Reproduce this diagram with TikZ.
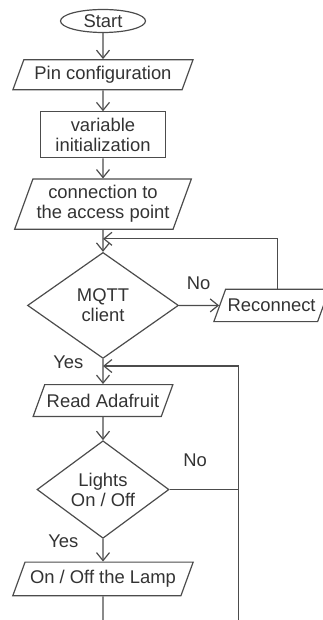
\documentclass[tikz,border=0pt]{standalone}
\usepackage{fontspec}
\setmainfont{Liberation Sans}
\usetikzlibrary{arrows.meta, shapes.geometric, positioning, calc}
\tikzset{> = { Straight Barb[length = 4pt, width = 6.5pt] }}

\begin{document}
\begin{tikzpicture}[color = black!70, line width = 0.6pt,
		every node/.style = { font = \fontsize{9.2}{10}\selectfont, text = black!80, inner sep = 0pt },
		terminal/.style = { draw, ellipse, minimum width = 42.5pt, minimum height = 11.5pt },
		io/.style = { draw, trapezium, trapezium left angle = 70, trapezium right angle = 110, align = center },
		process/.style = { draw, rectangle, align = center },
		decision/.style = { draw, diamond, align = center }
	]
		\useasboundingbox (0,0) rectangle (161pt,-310pt);

		\node [terminal] (start) at (51.5pt,-10.5pt) {Start};
		\node [io, inner xsep = 5.3pt, inner ysep = 3.2pt, below = 13pt of start] (pincfg) {Pin configuration};
		\node [process, minimum width = 62.5pt, minimum height = 23pt, below = 10.5pt of pincfg] (varinit) {variable\\initialization};
		\node [io, inner xsep = 1.8pt, inner ysep = 3.25pt, below = 10pt of varinit] (apconn) {connection to\\the access point};
		\node [decision, minimum width = 75.5pt, minimum height = 53pt, below = 11pt of apconn] (mqtt) {MQTT\\client};
		\node [io, inner xsep = 1pt, inner ysep = 4.9pt, right = 20pt of mqtt] (reconn) {Reconnect};
		\node [io, inner xsep = 1pt, inner ysep = 4.6pt, below = 12.5pt of mqtt] (readada) {Read Adafruit};
		\node [decision, minimum width = 66pt, minimum height = 45pt, below = 11.5pt of readada] (lights) {Lights\\On / Off};
		\node [io, inner xsep = 2.5pt, inner ysep = 4.1pt, below = 11.3pt of lights] (lamp) {On / Off the Lamp};

		% branch labels
		\node [above right = 7.7pt and 3.6pt of mqtt.east] (no1) {No};
		\node [above right = 11.2pt and 6.6pt of lights.east] (no2) {No};
		\node [left = 9.5pt of mqtt.south, yshift = -1.5pt] (yes1) {Yes};
		\node [left = 12pt of lights.south, yshift = -1pt] (yes2) {Yes};

		% loop joints and open ends
		\coordinate [below = 4.5pt of apconn] (loopin);
		\coordinate [below = 3.5pt of mqtt] (pollin);
		\coordinate (pollend) at (119.2pt,-312pt);
		\coordinate (lampend) at (lamp.south |- pollend);

		\draw [->] (start) -- (pincfg);
		\draw [->] (pincfg) -- (varinit);
		\draw [->] (varinit) -- (apconn);
		\draw [->] (apconn) -- (mqtt);
		\draw [->] (mqtt) -- (reconn);
		\draw [->] ([xshift = 3pt]reconn.north) |- (loopin);
		\draw [->] (mqtt) -- (readada);
		\draw [->] (readada) -- (lights);
		\draw [->] (lights) -- (lamp);
		\draw (lights) -- (lights -| pollend);
		\draw [->] (pollend) |- (pollin);
		\draw (lamp) -- (lampend);
	\end{tikzpicture}
\end{document}
